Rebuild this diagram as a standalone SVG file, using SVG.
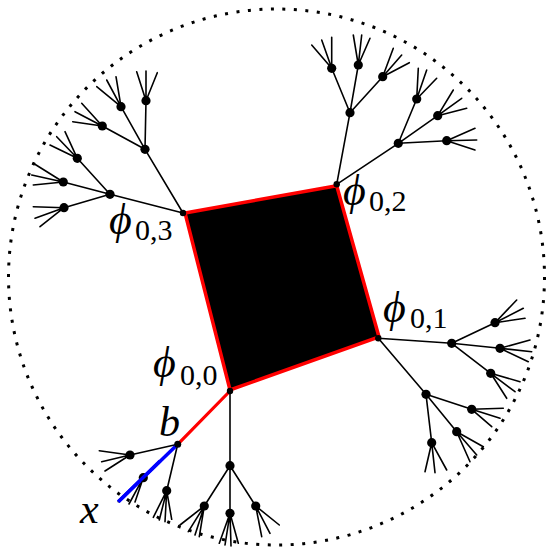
<svg xmlns="http://www.w3.org/2000/svg" width="552" height="550" viewBox="0 0 552 550">
<style>
.e{fill:none;stroke:#000;stroke-width:1.6;stroke-linecap:round}
.n{fill:#000}
.m{font-family:"Liberation Serif","DejaVu Serif",serif;font-style:italic;font-size:44px;fill:#000}
.v{font-family:"Liberation Serif","DejaVu Serif",serif;font-style:italic;font-size:42px;fill:#000}
.s{font-family:"Liberation Serif","DejaVu Serif",serif;font-size:30px;fill:#000}
</style>
<rect width="552" height="550" fill="#fff"/>
<circle id="boundary" cx="276.5" cy="277" r="268" fill="none" stroke="#000" stroke-width="3" stroke-dasharray="3 8.53"/>
<g id="connectors">
<path class="e" d="M183,213L145,149.3M183,213L110,194.3M145,149.3L121,106.7M145,149.3L146,100.7M145,149.3L102.3,126M110,194.3L77.3,158.3M110,194.3L63.3,182M110,194.3L64,207.7
M121,106.7L96.7,86.7M121,106.7L106.7,80M121,106.7L116,76.7
M146,100.7L136.7,71.7M146,100.7L146,71M146,100.7L157.3,72.7
M102.3,126L72.7,121.7M102.3,126L75,111.7M102.3,126L81.7,103.3
M77.3,158.3L50,145M77.3,158.3L56.7,136.7M77.3,158.3L65,131.7
M63.3,182L33.3,163.3M63.3,182L31.7,175M63.3,182L33.3,185
M64,207.7L33.3,206.7M64,207.7L35,218.3M64,207.7L40,226.7"/>
<path class="e" d="M336.7,184.3L350,112.7M336.7,184.3L398.3,143.3M350,112.7L331.7,68.3M350,112.7L358.3,65M350,112.7L382.7,76.7M398.3,143.3L416.7,99M398.3,143.3L437.7,115.7M398.3,143.3L446.7,140.7
M331.7,68.3L311.7,45M331.7,68.3L321.7,40M331.7,68.3L331.7,37.3
M358.3,65L353.3,35M358.3,65L361.7,35M358.3,65L370,38.3
M382.7,76.7L393.3,48.3M382.7,76.7L401.7,55M382.7,76.7L409.3,62.7
M416.7,99L418.3,68.3M416.7,99L426.7,70M416.7,99L436.7,78.3
M437.7,115.7L453.3,90M437.7,115.7L461.7,98.3M437.7,115.7L466.7,108.3
M446.7,140.7L475,128.3M446.7,140.7L476.7,140M446.7,140.7L475,150"/>
<path class="e" d="M378.3,338.3L451.7,343.3M378.3,338.3L426,394.3M451.7,343.3L495,322.7M451.7,343.3L500,348.3M451.7,343.3L490.7,373.3M426,394.3L471.7,409.3M426,394.3L456.7,431.7M426,394.3L431.7,442.7
M495,322.7L516.7,300M495,322.7L523.3,308.3M495,322.7L525,318.3
M500,348.3L530,340M500,348.3L531.7,351.7M500,348.3L528.3,361.7
M490.7,373.3L520,381.7M490.7,373.3L515,391.7M490.7,373.3L506.7,398.3
M471.7,409.3L503.3,408.3M471.7,409.3L500,418.3M471.7,409.3L491.7,426.7
M456.7,431.7L483.3,446.7M456.7,431.7L476.7,455M456.7,431.7L470,461.7
M431.7,442.7L425,471.7M431.7,442.7L435,472.7M431.7,442.7L446.7,470"/>
<path class="e" d="M230,391L230,465.7M230,465.7L204.3,506M230,465.7L230,513.3M230,465.7L255.7,506M177.7,444.3L130,455M177.7,444.3L143.3,477.7M177.7,444.3L166.7,490.7
M130,455L99.3,450.7M130,455L101.7,461.7M130,455L105,471
M143.3,477.7L118.3,501.7M143.3,477.7L129,504M143.3,477.7L135,502
M166.7,490.7L153.3,517.3M166.7,490.7L159.3,520M166.7,490.7L165,521.7M166.7,490.7L171.7,519.3
M204.3,506L180,525M204.3,506L188.3,531.7M204.3,506L195,535M204.3,506L199.3,536.7
M230,513.3L219.3,543.3M230,513.3L225,545M230,513.3L231,546M230,513.3L238.3,543.3
M255.7,506L261.7,536.7M255.7,506L270,533.3M255.7,506L279.3,525"/>
<line x1="230" y1="391" x2="177.7" y2="444.3" stroke="#f00" stroke-width="3.2" stroke-linecap="round"/>
<line x1="177.7" y1="444.3" x2="118.3" y2="501.7" stroke="#00f" stroke-width="3.5"/>
</g>
<g id="core"><polygon points="185,213 336.7,185.7 379,337 230,390" fill="#000" stroke="#f00" stroke-width="3.5" stroke-linejoin="miter"/></g>
<g id="phi03"><circle class="n" cx="183" cy="213" r="3.2"/></g>
<g id="phi02"><circle class="n" cx="336.7" cy="184.3" r="3.2"/></g>
<g id="phi01"><circle class="n" cx="378.3" cy="338.3" r="3.2"/></g>
<g id="phi00"><circle class="n" cx="230" cy="391" r="3.2"/></g>
<g id="b"><circle class="n" cx="177.7" cy="444.3" r="3.5"/></g>
<g id="t3"><circle class="n" cx="145" cy="149.3" r="4.6"/><circle class="n" cx="110" cy="194.3" r="4.6"/><circle class="n" cx="121" cy="106.7" r="4.6"/><circle class="n" cx="146" cy="100.7" r="4.6"/><circle class="n" cx="102.3" cy="126" r="4.6"/><circle class="n" cx="77.3" cy="158.3" r="4.6"/><circle class="n" cx="63.3" cy="182" r="4.6"/><circle class="n" cx="64" cy="207.7" r="4.6"/></g>
<g id="t2"><circle class="n" cx="350" cy="112.7" r="4.6"/><circle class="n" cx="398.3" cy="143.3" r="4.6"/><circle class="n" cx="331.7" cy="68.3" r="4.6"/><circle class="n" cx="358.3" cy="65" r="4.6"/><circle class="n" cx="382.7" cy="76.7" r="4.6"/><circle class="n" cx="416.7" cy="99" r="4.6"/><circle class="n" cx="437.7" cy="115.7" r="4.6"/><circle class="n" cx="446.7" cy="140.7" r="4.6"/></g>
<g id="t1"><circle class="n" cx="451.7" cy="343.3" r="4.6"/><circle class="n" cx="426" cy="394.3" r="4.6"/><circle class="n" cx="495" cy="322.7" r="4.6"/><circle class="n" cx="500" cy="348.3" r="4.6"/><circle class="n" cx="490.7" cy="373.3" r="4.6"/><circle class="n" cx="471.7" cy="409.3" r="4.6"/><circle class="n" cx="456.7" cy="431.7" r="4.6"/><circle class="n" cx="431.7" cy="442.7" r="4.6"/></g>
<g id="t0"><circle class="n" cx="230" cy="465.7" r="4.6"/><circle class="n" cx="204.3" cy="506" r="4.6"/><circle class="n" cx="230" cy="513.3" r="4.6"/><circle class="n" cx="255.7" cy="506" r="4.6"/><circle class="n" cx="130" cy="455" r="4.6"/><circle class="n" cx="143.3" cy="477.7" r="4.6"/><circle class="n" cx="166.7" cy="490.7" r="4.6"/></g>
<line x1="160" y1="461" x2="118.3" y2="501.7" stroke="#00f" stroke-width="3.5"/>
<g id="labels">
<text class="m" x="109" y="234">ϕ</text><text class="s" x="135" y="240">0,3</text>
<text class="m" x="343" y="205">ϕ</text><text class="s" x="369" y="211">0,2</text>
<text class="m" x="383" y="322">ϕ</text><text class="s" x="410" y="328">0,1</text>
<text class="m" x="153" y="377">ϕ</text><text class="s" x="180" y="385">0,0</text>
<text class="v" x="159" y="436">b</text>
<text class="v" x="80" y="523">x</text>
</g>
</svg>
